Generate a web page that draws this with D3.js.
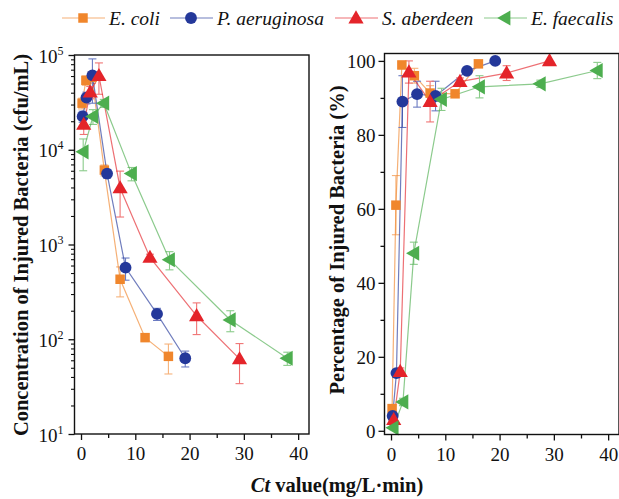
<!DOCTYPE html>
<html><head><meta charset="utf-8">
<script src="https://cdn.jsdelivr.net/npm/d3@7"></script>
<style>body{margin:0;background:#fff} svg text{font-family:"Liberation Serif","Times New Roman",serif;fill:#111}</style>
</head><body><svg id="c" width="619" height="499"></svg>
<script>
// ---- data ----
const seriesNames = ["E. coli", "P. aeruginosa", "S. aberdeen", "E. faecalis"];
const markerColors = ["#F0862C", "#24389A", "#E4242A", "#4DAE4F"];
const lineColors = ["#F6B27A", "#6B7BC2", "#F07474", "#8ACB8A"];

const ctEcoli = [0.2, 0.9, 2.0, 4.3, 7.2, 11.8, 16.1];
const concEcoli = [31000, 54000, 58000, 6100, 430, 104, 66];
const concErrEcoli = [4000, 6000, 8000, 800, 150, 0, 23];
const pctEcoli = [6, 61, 98.9, 96, 91.3, 91.1, 99.2];
const pctErrEcoli = [1, 8, 1, 2, 2, 0, 0];

const ctPaer = [0.3, 1.0, 2.1, 4.8, 8.2, 14.0, 19.2];
const concPaer = [22500, 35500, 61000, 5600, 570, 185, 63];
const concErrPaer = [3000, 5000, 30000, 600, 150, 27, 12];
const pctPaer = [4, 15.6, 89, 91, 90.5, 97.3, 100];
const pctErrPaer = [1, 1, 7, 3.5, 4, 0, 0];

const ctSabe = [0.5, 1.7, 3.3, 7.2, 12.7, 21.3, 29.2];
const concSabe = [18500, 40500, 60500, 3950, 730, 177, 62];
const concErrSabe = [4000, 6000, 22000, 2000, 60, 65, 28];
const pctSabe = [3, 16, 97, 89, 94.4, 96.7, 100];
const pctErrSabe = [1, 1, 3, 5.5, 1, 2, 0];

const ctEfae = [0.4, 2.2, 4.2, 9.3, 16.3, 27.5, 38.0];
const concEfae = [9500, 22500, 31000, 5600, 690, 160, 63];
const concErrEfae = [3500, 4000, 3000, 900, 150, 40, 10];
const pctEfae = [0.8, 7.8, 48, 89.6, 93, 93.8, 97.4];
const pctErrEfae = [0.5, 1, 3, 3, 3, 1, 2.2];

const xTicks = [0, 10, 20, 30, 40];
const logTicks = [10, 100, 1000, 10000, 100000];
const pctTicks = [0, 20, 40, 60, 80, 100];

const series = [
  {name: seriesNames[0], ct: ctEcoli, conc: concEcoli, concErr: concErrEcoli, pct: pctEcoli, pctErr: pctErrEcoli, sym: "square"},
  {name: seriesNames[1], ct: ctPaer, conc: concPaer, concErr: concErrPaer, pct: pctPaer, pctErr: pctErrPaer, sym: "circle"},
  {name: seriesNames[2], ct: ctSabe, conc: concSabe, concErr: concErrSabe, pct: pctSabe, pctErr: pctErrSabe, sym: "tri"},
  {name: seriesNames[3], ct: ctEfae, conc: concEfae, concErr: concErrEfae, pct: pctEfae, pctErr: pctErrEfae, sym: "left"}
];

const svg = d3.select("#c");

// ---- scales ----
const xL = d3.scaleLinear().domain([-1.2, 42]).range([74.5, 309]);
const yL = d3.scaleLog().domain([10, 1e5]).range([434, 55]);
const xR = d3.scaleLinear().domain([-1.2, 42]).range([384.5, 619]);
const yR = d3.scaleLinear().domain([-1, 102]).range([434.5, 53.5]);

function symPath(sym) {
  if (sym === "square") return d3.symbol(d3.symbolSquare, 90)();
  if (sym === "circle") return d3.symbol(d3.symbolCircle, 110)();
  return d3.symbol(d3.symbolTriangle, 100)();
}
function symTransform(sym, x, y) {
  let t = `translate(${x},${y})`;
  if (sym === "tri") t += " translate(0,1)";
  if (sym === "left") t += " rotate(-90) translate(0,1)";
  return t;
}

function drawPanel(x, y, valKey, errKey, isLog) {
  const g = svg.append("g");
  series.forEach((s, i) => {
    const pts = s.ct.map((c, j) => ({x: c, y: s[valKey][j], e: s[errKey][j]}));
    const lo = v => isLog ? Math.max(v, 1) : v;
    const eg = g.append("g").attr("stroke", lineColors[i]).attr("stroke-width", 1.1).attr("fill", "none");
    pts.filter(p => p.e > 0).forEach(p => {
      const px = x(p.x), y1 = y(lo(p.y - p.e)), y2 = y(p.y + p.e);
      eg.append("line").attr("x1", px).attr("x2", px).attr("y1", y1).attr("y2", y2);
      eg.append("line").attr("x1", px - 4).attr("x2", px + 4).attr("y1", y1).attr("y2", y1);
      eg.append("line").attr("x1", px - 4).attr("x2", px + 4).attr("y1", y2).attr("y2", y2);
    });
    g.append("path").datum(pts)
      .attr("fill", "none").attr("stroke", markerColors[i]).attr("stroke-opacity", 0.65).attr("stroke-width", 1.2)
      .attr("d", d3.line().x(d => x(d.x)).y(d => y(d.y)));
  });
  series.forEach((s, i) => {
    s.ct.forEach((c, j) => {
      g.append("path").attr("d", symPath(s.sym))
        .attr("transform", symTransform(s.sym, x(c), y(s[valKey][j])))
        .attr("fill", markerColors[i]);
    });
  });
}

function frame(x, y) {
  const [x0, x1] = x.range(), [y0, y1] = y.range();
  svg.append("rect").attr("x", x0).attr("y", y1).attr("width", x1 - x0).attr("height", y0 - y1)
    .attr("fill", "none").attr("stroke", "#111").attr("stroke-width", 1.4);
}

function xAxis(x, yPos) {
  const ax = d3.axisBottom(x).tickValues(xTicks).tickSize(6).tickFormat(d3.format("d"));
  const g = svg.append("g").attr("transform", `translate(0,${yPos})`).call(ax);
  g.select(".domain").remove();
  g.selectAll("line").attr("stroke", "#111").attr("stroke-width", 1.3);
  g.selectAll("text").attr("font-size", 19).attr("dy", "0.95em").attr("y", 8)
    .style("font-family", '"Liberation Serif",serif');
  const minor = d3.axisBottom(x).tickValues([5, 15, 25, 35]).tickSize(4).tickFormat("");
  const gm = svg.append("g").attr("transform", `translate(0,${yPos})`).call(minor);
  gm.select(".domain").remove();
  gm.selectAll("line").attr("stroke", "#111").attr("stroke-width", 1.3);
}

// ---- left panel ----
drawPanel(xL, yL, "conc", "concErr", true);
frame(xL, yL);
xAxis(xL, 434);
{
  const minorVals = [];
  for (let d = 10; d < 1e5; d *= 10) for (let k = 2; k <= 9; k++) minorVals.push(d * k);
  const gm = svg.append("g").attr("transform", `translate(${xL.range()[0]},0)`)
    .call(d3.axisLeft(yL).tickValues(minorVals).tickSize(3.5).tickFormat(""));
  gm.select(".domain").remove();
  gm.selectAll("line").attr("stroke", "#111").attr("stroke-width", 1.1);
  const g = svg.append("g").attr("transform", `translate(${xL.range()[0]},0)`)
    .call(d3.axisLeft(yL).tickValues(logTicks).tickSize(6).tickFormat(""));
  g.select(".domain").remove();
  g.selectAll("line").attr("stroke", "#111").attr("stroke-width", 1.3);
  g.selectAll(".tick").each(function(d) {
    const t = d3.select(this).append("text").attr("x", -11).attr("y", 7)
      .attr("text-anchor", "end").attr("font-size", 19).attr("fill", "#111");
    t.append("tspan").text("10");
    t.append("tspan").attr("dy", -8).attr("font-size", 12).text(Math.round(Math.log10(d)));
  });
}
svg.append("text").attr("transform", "translate(28,245) rotate(-90)")
  .attr("text-anchor", "middle").attr("font-size", 20.5).attr("font-weight", "bold")
  .text("Concentration of Injured Bacteria (cfu/mL)");

// ---- right panel ----
drawPanel(xR, yR, "pct", "pctErr", false);
frame(xR, yR);
xAxis(xR, 434.5);
{
  const gm = svg.append("g").attr("transform", `translate(${xR.range()[0]},0)`)
    .call(d3.axisLeft(yR).tickValues([10, 30, 50, 70, 90]).tickSize(4).tickFormat(""));
  gm.select(".domain").remove();
  gm.selectAll("line").attr("stroke", "#111").attr("stroke-width", 1.3);
  const g = svg.append("g").attr("transform", `translate(${xR.range()[0]},0)`)
    .call(d3.axisLeft(yR).tickValues(pctTicks).tickSize(6).tickFormat(d3.format("d")));
  g.select(".domain").remove();
  g.selectAll("line").attr("stroke", "#111").attr("stroke-width", 1.3);
  g.selectAll("text").attr("font-size", 19).attr("x", -9).attr("dy", "0.35em")
    .style("font-family", '"Liberation Serif",serif');
}
svg.append("text").attr("transform", "translate(344,240) rotate(-90)")
  .attr("text-anchor", "middle").attr("font-size", 20.5).attr("font-weight", "bold")
  .text("Percentage of Injured Bacteria (%)");

// ---- x title ----
{
  const t = svg.append("text").attr("x", 337).attr("y", 492).attr("text-anchor", "middle")
    .attr("font-size", 20.5).attr("font-weight", "bold");
  t.append("tspan").attr("font-style", "italic").text("Ct");
  t.append("tspan").text(" value(mg/L·min)");
}

// ---- legend ----
const legendX = [62, 170, 335, 484];
series.forEach((s, i) => {
  const g = svg.append("g").attr("transform", `translate(${legendX[i]},18)`);
  g.append("line").attr("x1", 0).attr("x2", 43).attr("y1", 0).attr("y2", 0)
    .attr("stroke", markerColors[i]).attr("stroke-opacity", 0.65).attr("stroke-width", 1.2);
  g.append("path").attr("d", symPath(s.sym)).attr("transform", symTransform(s.sym, 21, 0)).attr("fill", markerColors[i]);
  g.append("text").attr("x", 47).attr("y", 6.5).attr("font-size", 19.5).attr("font-style", "italic").text(s.name);
});
</script></body></html>
